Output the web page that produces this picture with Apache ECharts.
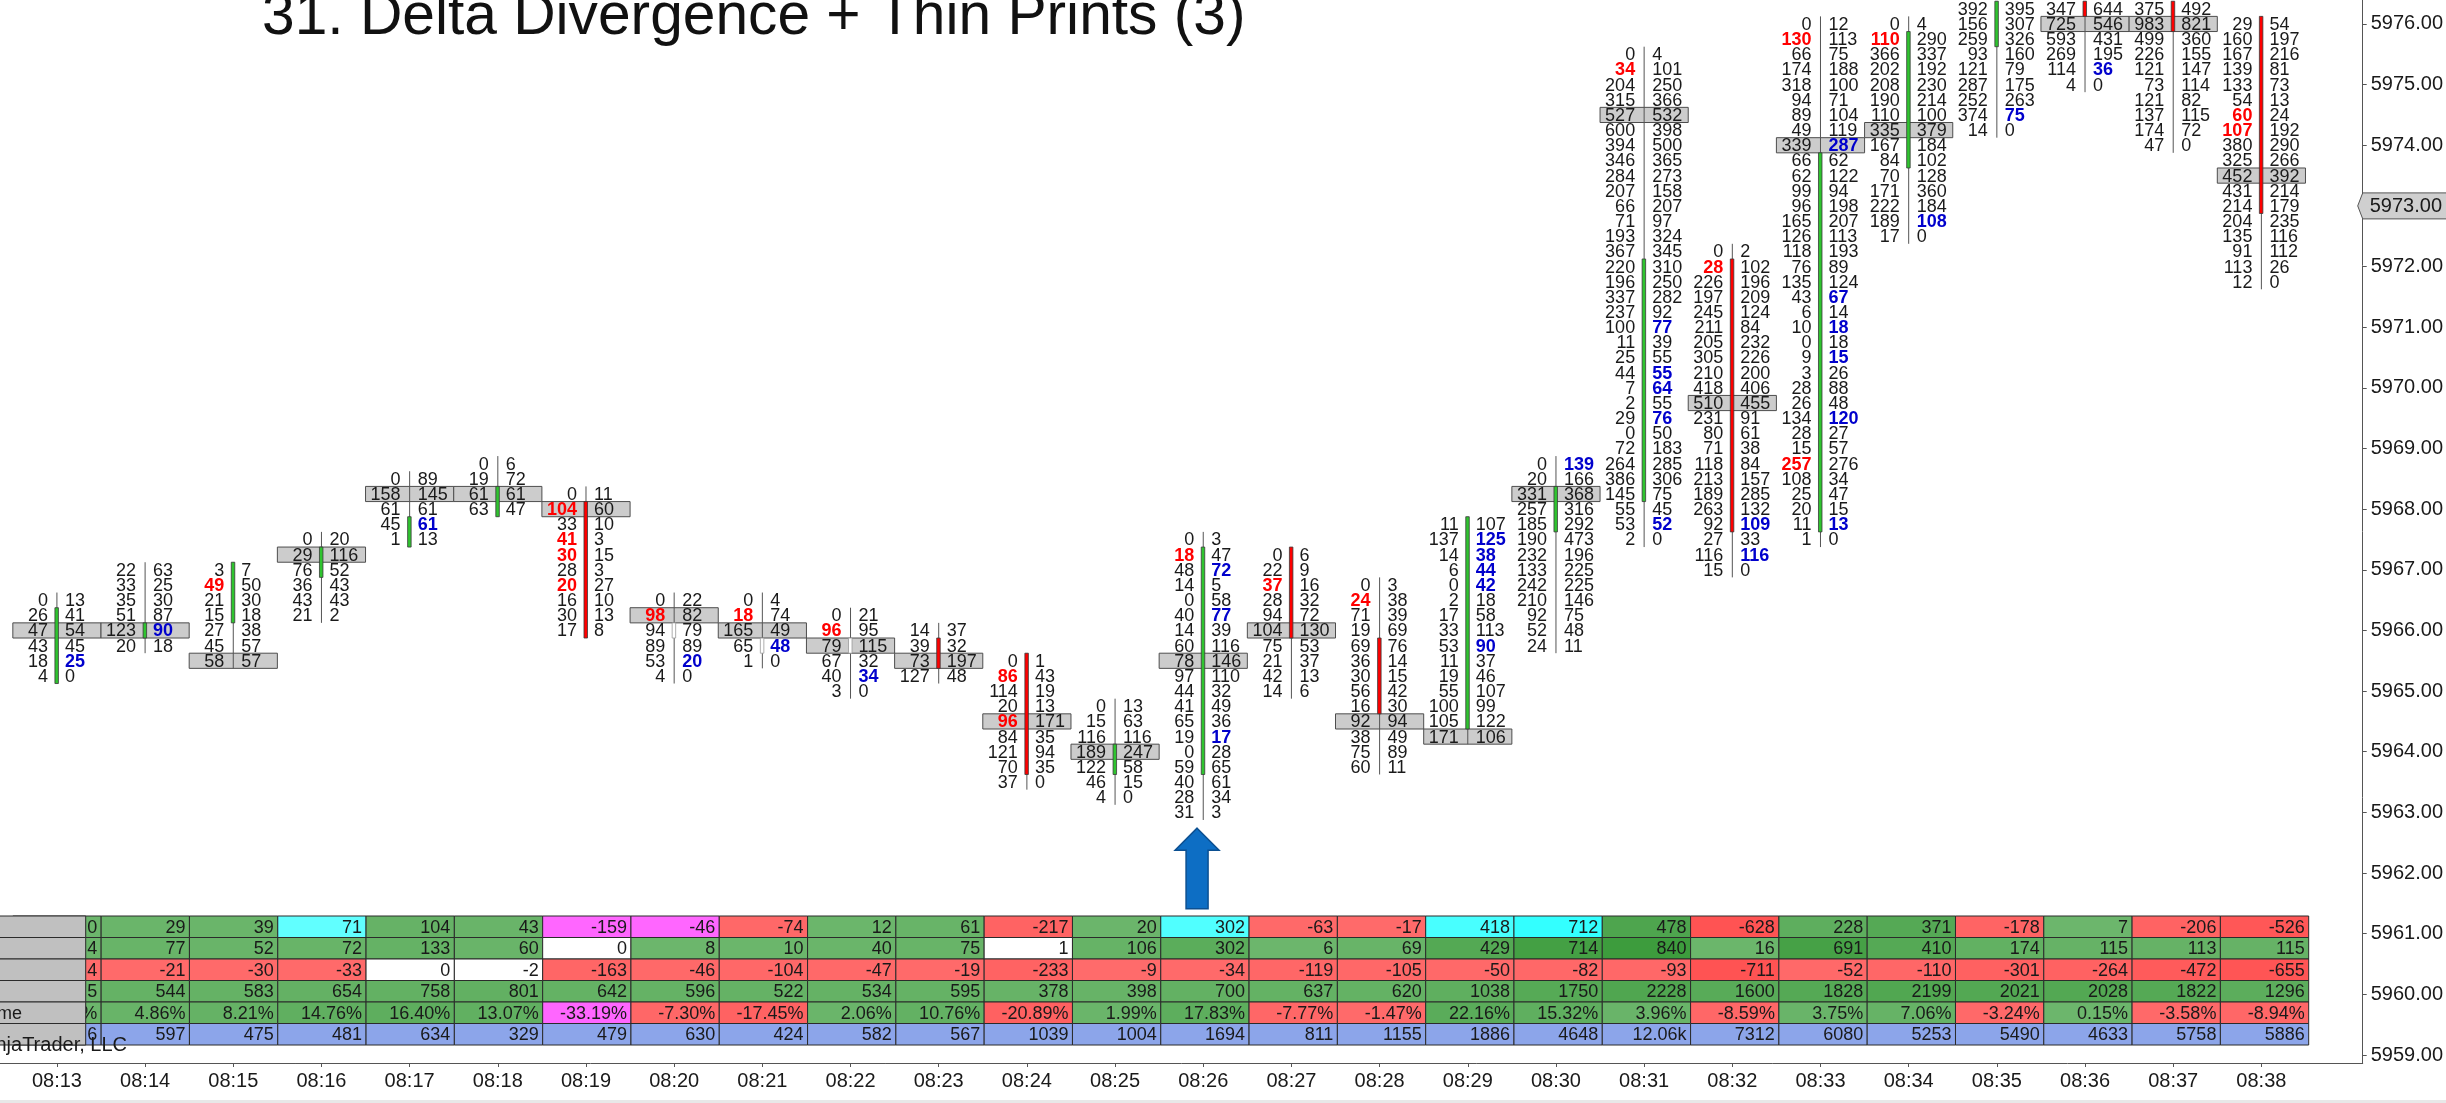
<!DOCTYPE html>
<html>
<head>
<meta charset="utf-8">
<title>31. Delta Divergence + Thin Prints (3)</title>
<script src="https://cdn.jsdelivr.net/npm/echarts@6/dist/echarts.min.js"></script>
<style>
  html, body { margin: 0; padding: 0; background: #fff; overflow: hidden; }
  #container { width: 2446px; height: 1103px; }
</style>
</head>
<body>
<div id="container"></div>
<script>
var times = ['08:13','08:14','08:15','08:16','08:17','08:18','08:19','08:20','08:21','08:22','08:23','08:24','08:25','08:26','08:27','08:28','08:29','08:30','08:31','08:32','08:33','08:34','08:35','08:36','08:37','08:38'];

// price of the first row of every bar
var topPrices = [5966.5,5967,5967,5967.5,5968.5,5968.75,5968.25,5966.5,5966.5,5966.25,5966,5965.5,5964.75,5967.5,5967.25,5966.75,5967.75,5968.75,5975.5,5972.25,5976,5976,5976.25,5976.25,5976.25,5976];
var pocPrices = [5966,5966,5965.5,5967.25,5968.25,5968.25,5968,5966.25,5966,5965.75,5965.5,5964.5,5964,5965.5,5966,5964.5,5964.25,5968.25,5974.5,5969.75,5974,5974.25,null,5976,5976,5973.5];
var bodyTops = [5966.25,5966,5967,5967.25,5967.75,5968.25,5968,5966,5965.75,5965.75,5965.75,5965.5,5964,5967.25,5967.25,5965.75,5967.75,5968.25,5972,5972,5973.75,5975.75,5976.25,5976.25,5976.25,5976];
var bodyBots = [5965.25,5966,5966.25,5967,5967.5,5968,5966,5966,5965.75,5965.75,5965.5,5963.75,5963.75,5963.75,5966,5964.75,5964.5,5967.75,5968.25,5967.75,5967.75,5973.75,5975.75,5976.25,5976,5973];
// u = up, d = down, n = no change
var bodyTypes = ['u','u','u','u','u','u','d','n','n','n','d','d','u','u','d','d','u','u','u','d','u','u','u','d','d','d'];

var bids = [
  [0,26,47,43,18,4],
  [22,33,35,51,123,20],
  [3,49,21,15,27,45,58],
  [0,29,76,36,43,21],
  [0,158,61,45,1],
  [0,19,61,63],
  [0,104,33,41,30,28,20,16,30,17],
  [0,98,94,89,53,4],
  [0,18,165,65,1],
  [0,96,79,67,40,3],
  [14,39,73,127],
  [0,86,114,20,96,84,121,70,37],
  [0,15,116,189,122,46,4],
  [0,18,48,14,0,40,14,60,78,97,44,41,65,19,0,59,40,28,31],
  [0,22,37,28,94,104,75,21,42,14],
  [0,24,71,19,69,36,30,56,16,92,38,75,60],
  [11,137,14,6,0,2,17,33,53,11,19,55,100,105,171],
  [0,20,331,257,185,190,232,133,242,210,92,52,24],
  [0,34,204,315,527,600,394,346,284,207,66,71,193,367,220,196,337,237,100,11,25,44,7,2,29,0,72,264,386,145,55,53,2],
  [0,28,226,197,245,211,205,305,210,418,510,231,80,71,118,213,189,263,92,27,116,15],
  [0,130,66,174,318,94,89,49,339,66,62,99,96,165,126,118,76,135,43,6,10,0,9,3,28,26,134,28,15,257,108,25,20,11,1],
  [0,110,366,202,208,190,110,335,167,84,70,171,222,189,17],
  [392,156,259,93,121,287,252,374,14],
  [347,725,593,269,114,4],
  [375,983,499,226,121,73,121,137,174,47],
  [29,160,167,139,133,54,60,107,380,325,452,431,214,204,135,91,113,12]
];
var asks = [
  [13,41,54,45,25,0],
  [63,25,30,87,90,18],
  [7,50,30,18,38,57,57],
  [20,116,52,43,43,2],
  [89,145,61,61,13],
  [6,72,61,47],
  [11,60,10,3,15,3,27,10,13,8],
  [22,82,79,89,20,0],
  [4,74,49,48,0],
  [21,95,115,32,34,0],
  [37,32,197,48],
  [1,43,19,13,171,35,94,35,0],
  [13,63,116,247,58,15,0],
  [3,47,72,5,58,77,39,116,146,110,32,49,36,17,28,65,61,34,3],
  [6,9,16,32,72,130,53,37,13,6],
  [3,38,39,69,76,14,15,42,30,94,49,89,11],
  [107,125,38,44,42,18,58,113,90,37,46,107,99,122,106],
  [139,166,368,316,292,473,196,225,225,146,75,48,11],
  [4,101,250,366,532,398,500,365,273,158,207,97,324,345,310,250,282,92,77,39,55,55,64,55,76,50,183,285,306,75,45,52,0],
  [2,102,196,209,124,84,232,226,200,406,455,91,61,38,84,157,285,132,109,33,116,0],
  [12,113,75,188,100,71,104,119,287,62,122,94,198,207,113,193,89,124,67,14,18,18,15,26,88,48,120,27,57,276,34,47,15,13,0],
  [4,290,337,192,230,214,100,379,184,102,128,360,184,108,0],
  [395,307,326,160,79,175,263,75,0],
  [644,546,431,195,36,0],
  [492,821,360,155,147,114,82,115,72,0],
  [54,197,216,81,73,13,24,192,290,266,392,214,179,235,116,112,26,0]
];
// row numbers printed bold, red for bids and blue for asks
var bidBold = [[],[],[1],[],[],[],[1,3,4,6],[1],[1],[1],[],[1,4],[],[1],[2],[1],[],[],[1],[1],[1,29],[1],[],[],[],[6,7]];
var askBold = [[4],[4],[],[],[3],[],[],[4],[3],[4],[],[],[],[2,5,13],[],[],[1,2,3,4,8],[0],[18,21,22,24,31],[18,20],[8,18,20,22,26,33],[13],[7],[4],[],[]];

// summary table, 08:14 onwards
var rowDelta = [29,39,71,104,43,-159,-46,-74,12,61,-217,20,302,-63,-17,418,712,478,-628,228,371,-178,7,-206,-526];
var rowMaxDelta = [77,52,72,133,60,0,8,10,40,75,1,106,302,6,69,429,714,840,16,691,410,174,115,113,115];
var rowMinDelta = [-21,-30,-33,0,-2,-163,-46,-104,-47,-19,-233,-9,-34,-119,-105,-50,-82,-93,-711,-52,-110,-301,-264,-472,-655];
var rowCumDelta = [544,583,654,758,801,642,596,522,534,595,378,398,700,637,620,1038,1750,2228,1600,1828,2199,2021,2028,1822,1296];
var rowPercent = [4.86,8.21,14.76,16.40,13.07,-33.19,-7.30,-17.45,2.06,10.76,-20.89,1.99,17.83,-7.77,-1.47,22.16,15.32,3.96,-8.59,3.75,7.06,-3.24,0.15,-3.58,-8.94];
var rowVolume = [597,475,481,634,329,479,630,424,582,567,1039,1004,1694,811,1155,1886,4648,12060,7312,6080,5253,5490,4633,5758,5886];
var firstColText = ['0','4','4','5','%','6'];
var rowLabels = ['','','','','Volume',''];
// 08:14 based column numbers that carry a signal colour
var cyanDelta = [2,12,15,16];
var magentaDelta = [5,6];
var magentaPercent = [5];

var priceTicks = [5959,5960,5961,5962,5963,5964,5965,5966,5967,5968,5969,5970,5971,5972,5974,5975,5976];
var lastPrice = 5973;

var xMin = -0.6455, xMax = 26.149;
var FONT = '"Liberation Sans", Arial, sans-serif';
var rowHalf = 0.125;

function lerpColor(a, b, t) {
  t = Math.max(0, Math.min(1, t));
  var out = '#';
  for (var k = 1; k < 7; k += 2) {
    var v = Math.round(parseInt(a.substr(k, 2), 16) * (1 - t) + parseInt(b.substr(k, 2), 16) * t);
    out += (v < 16 ? '0' : '') + v.toString(16);
  }
  return out;
}

var tableRows = [rowDelta, rowMaxDelta, rowMinDelta, rowCumDelta, rowPercent, rowVolume];
var rowScale = [800, 900, 900, 4000, 60, 1];
function cellColor(r, c, v) {
  if (r == 5) return '#8ca5ea';
  if (r == 0 && cyanDelta.indexOf(c) > -1) return lerpColor('#66ffff', '#33ffff', v / 700);
  if (r == 0 && magentaDelta.indexOf(c) > -1) return '#ff66ff';
  if (r == 4 && magentaPercent.indexOf(c) > -1) return '#ff66ff';
  if ((r == 1 || r == 2) && Math.abs(v) <= 2) return '#ffffff';
  if (v < 0) return lerpColor('#ff6b6b', '#ff4d4d', -v / rowScale[r]);
  return lerpColor('#6cb66c', '#3a9a3a', v / rowScale[r]);
}
function cellText(r, v) {
  if (r == 4) return v.toFixed(2) + '%';
  if (r == 5 && v >= 10000) return (v / 1000).toFixed(2) + 'k';
  return String(v);
}

var cellData = [], cellInfo = [];
var firstColors = ['#6cb66c', '#6cb66c', '#ff6b6b', '#6cb66c', '#6cb66c', '#8ca5ea'];
for (var r = 0; r < tableRows.length; r++) {
  cellData.push([0, r]);
  cellInfo.push({ text: firstColText[r], color: firstColors[r] });
  for (var c = 0; c < tableRows[r].length; c++) {
    cellData.push([c + 1, r]);
    cellInfo.push({ text: cellText(r, tableRows[r][c]), color: cellColor(r, c, tableRows[r][c]) });
  }
}

var printData = [], printInfo = [], pocData = [], barData = [];
for (var i = 0; i < times.length; i++) {
  for (var j = 0; j < bids[i].length; j++) {
    printData.push([i, topPrices[i] - j * 0.25]);
    printInfo.push({ bid: bids[i][j], ask: asks[i][j], bidBold: bidBold[i].indexOf(j) > -1, askBold: askBold[i].indexOf(j) > -1 });
  }
  if (pocPrices[i] != null) pocData.push([i, pocPrices[i]]);
  barData.push([i, topPrices[i], topPrices[i] - (bids[i].length - 1) * 0.25, bodyTops[i], bodyBots[i]]);
}

function renderCell(params, api) {
  var p = api.coord([api.value(0), api.value(1)]);
  var w = api.size([1, 1]);
  var info = cellInfo[params.dataIndex];
  return {
    type: 'group',
    children: [{
      type: 'rect',
      shape: { x: p[0] - w[0] / 2, y: p[1] - w[1] / 2, width: w[0], height: w[1] },
      style: { fill: info.color, stroke: '#2b2b2b', lineWidth: 1 }
    }, {
      type: 'text',
      style: { x: p[0] + w[0] / 2 - 4, y: p[1] + 1, text: info.text, fill: '#1a1a1a', font: '18px ' + FONT, align: 'right', verticalAlign: 'middle' }
    }]
  };
}

function renderLabelCell(params, api) {
  var row = api.value(0);
  var left = api.coord([xMin, row]);
  var right = api.coord([0.325, row]);
  var h = api.size([1, 1])[1];
  return {
    type: 'group',
    children: [{
      type: 'rect',
      shape: { x: left[0] - 2, y: left[1] - h / 2, width: right[0] - left[0] + 2, height: h },
      style: { fill: '#c0c0c0', stroke: '#2b2b2b', lineWidth: 1 }
    }, {
      type: 'text',
      style: { x: 22, y: left[1] + 1, text: rowLabels[row], fill: '#1a1a1a', font: '18px ' + FONT, align: 'right', verticalAlign: 'middle' }
    }]
  };
}

function renderPoc(params, api) {
  var p = api.coord([api.value(0), api.value(1)]);
  var s = api.size([1, 0.25]);
  return {
    type: 'rect',
    shape: { x: p[0] - s[0] / 2, y: p[1] - s[1] / 2, width: s[0], height: s[1] },
    style: { fill: '#cccccc', stroke: '#4d4d4d', lineWidth: 1 }
  };
}

function renderBar(params, api) {
  var i = api.value(0);
  var wickTop = api.coord([i, api.value(1) + rowHalf]);
  var wickBot = api.coord([i, api.value(2) - rowHalf]);
  var bodyTop = api.coord([i, api.value(3) + rowHalf]);
  var bodyBot = api.coord([i, api.value(4) - rowHalf]);
  var type = bodyTypes[i];
  var fill = type == 'u' ? '#2fc42f' : (type == 'd' ? '#ff0000' : '#ffffff');
  return {
    type: 'group',
    children: [{
      type: 'line',
      shape: { x1: wickTop[0], y1: wickTop[1], x2: wickBot[0], y2: wickBot[1] },
      style: { stroke: '#555555', lineWidth: 1 }
    }, {
      type: 'rect',
      shape: { x: bodyTop[0] - 2, y: bodyTop[1], width: 3.5, height: bodyBot[1] - bodyTop[1] },
      style: { fill: fill, stroke: type == 'n' ? '#999999' : '#3a3a3a', lineWidth: 0.8 }
    }]
  };
}

function renderPrint(params, api) {
  var p = api.coord([api.value(0), api.value(1)]);
  var info = printInfo[params.dataIndex];
  return {
    type: 'group',
    children: [{
      type: 'text',
      style: { x: p[0] - 9, y: p[1] + 1, text: String(info.bid), align: 'right', verticalAlign: 'middle',
        fill: info.bidBold ? '#ff0000' : '#1a1a1a', font: (info.bidBold ? 'bold ' : '') + '18px ' + FONT }
    }, {
      type: 'text',
      style: { x: p[0] + 8, y: p[1] + 1, text: String(info.ask), align: 'left', verticalAlign: 'middle',
        fill: info.askBold ? '#0000cc' : '#1a1a1a', font: (info.askBold ? 'bold ' : '') + '18px ' + FONT }
    }]
  };
}

function renderLast(params, api) {
  var p = api.coord([xMax, api.value(0)]);
  return {
    type: 'group',
    children: [{
      type: 'polygon',
      shape: { points: [[p[0] - 5, p[1]], [p[0], p[1] - 13], [p[0] + 90, p[1] - 13], [p[0] + 90, p[1] + 13], [p[0], p[1] + 13]] },
      style: { fill: '#cfcfcf', stroke: '#555555', lineWidth: 1 }
    }, {
      type: 'text',
      style: { x: p[0] + 7, y: p[1] + 1, text: api.value(0).toFixed(2), fill: '#1a1a1a', font: '20px ' + FONT, align: 'left', verticalAlign: 'middle' }
    }]
  };
}

// annotation arrow under the 08:26 bar
var arrowAt = [12.93, 5962.74, 5961.41];
function renderArrow(params, api) {
  var tip = api.coord([api.value(0), api.value(1)]);
  var base = api.coord([api.value(0), api.value(2)]);
  var x = tip[0], y = tip[1];
  return {
    type: 'polygon',
    shape: { points: [[x, y], [x + 22, y + 22], [x + 11, y + 22], [x + 11, base[1]], [x - 11, base[1]], [x - 11, y + 22], [x - 22, y + 22]] },
    style: { fill: '#0d6ec4', stroke: '#0b4f91', lineWidth: 1.5 }
  };
}

var myChart = echarts.init(document.getElementById('container'), null, { renderer: 'canvas' });
var hiddenAxis = { type: 'value', gridIndex: 1, min: xMin, max: xMax, show: false };
var option = {
  animation: false,
  backgroundColor: '#ffffff',
  title: {
    text: '31. Delta Divergence + Thin Prints (3)',
    left: 257,
    top: -17,
    textStyle: { fontFamily: FONT, fontSize: 58.7, fontWeight: 'normal', color: '#111111' }
  },
  grid: [
    { left: 0, right: 80, top: 0, bottom: 40 },
    { left: 0, right: 80, top: 916, height: 129 }
  ],
  xAxis: [{
    type: 'value',
    gridIndex: 0,
    min: xMin,
    max: xMax,
    splitLine: { show: false },
    axisLine: { show: true, onZero: false, lineStyle: { color: '#555555' } },
    axisTick: { show: true, length: 4, lineStyle: { color: '#555555' }, customValues: times.map(function (t, i) { return i; }) },
    axisLabel: {
      customValues: times.map(function (t, i) { return i; }),
      formatter: function (v) { return times[v]; },
      margin: 8,
      fontFamily: FONT,
      fontSize: 20,
      color: '#1a1a1a'
    }
  }, hiddenAxis],
  yAxis: [{
    type: 'value',
    gridIndex: 0,
    position: 'right',
    min: 5958.868,
    max: 5976.395,
    splitLine: { show: false },
    axisLine: { show: true, onZero: false, lineStyle: { color: '#555555' } },
    axisTick: { show: true, length: 4, lineStyle: { color: '#555555' }, customValues: priceTicks },
    axisLabel: {
      customValues: priceTicks,
      formatter: function (v) { return v.toFixed(2); },
      margin: 8,
      padding: [8, 0, 0, 0],
      fontFamily: FONT,
      fontSize: 20,
      color: '#1a1a1a'
    }
  }, {
    type: 'category',
    gridIndex: 1,
    inverse: true,
    data: tableRows.map(function (t, i) { return i; }),
    show: false
  }],
  graphic: [{
    type: 'rect',
    z: 100,
    shape: { x: 0, y: 1100, width: 2446, height: 3 },
    style: { fill: '#e8e8e8' }
  }, {
    type: 'text',
    z: 100,
    x: 127,
    y: 1045,
    style: { text: 'NinjaTrader, LLC', fill: '#1a1a1a', font: '20px ' + FONT, align: 'right', verticalAlign: 'middle' }
  }],
  series: [
    { type: 'custom', name: 'poc', xAxisIndex: 0, yAxisIndex: 0, z: 1, silent: true, renderItem: renderPoc, data: pocData },
    { type: 'custom', name: 'bars', xAxisIndex: 0, yAxisIndex: 0, z: 2, silent: true, encode: { x: 0, y: [1, 2, 3, 4] }, renderItem: renderBar, data: barData },
    { type: 'custom', name: 'prints', xAxisIndex: 0, yAxisIndex: 0, z: 3, silent: true, renderItem: renderPrint, data: printData },
    { type: 'custom', name: 'arrow', xAxisIndex: 0, yAxisIndex: 0, z: 4, silent: true, encode: { x: 0, y: [1, 2] }, renderItem: renderArrow, data: [arrowAt] },
    { type: 'custom', name: 'table', xAxisIndex: 1, yAxisIndex: 1, z: 5, silent: true, renderItem: renderCell, data: cellData },
    { type: 'custom', name: 'labels', xAxisIndex: 1, yAxisIndex: 1, z: 6, silent: true, encode: { x: -1, y: 0 }, renderItem: renderLabelCell, data: [[0], [1], [2], [3], [4], [5]] },
    { type: 'custom', name: 'last', xAxisIndex: 0, yAxisIndex: 0, z: 7, silent: true, encode: { y: 0 }, renderItem: renderLast, data: [[lastPrice]] }
  ]
};
myChart.setOption(option);
</script>
</body>
</html>
